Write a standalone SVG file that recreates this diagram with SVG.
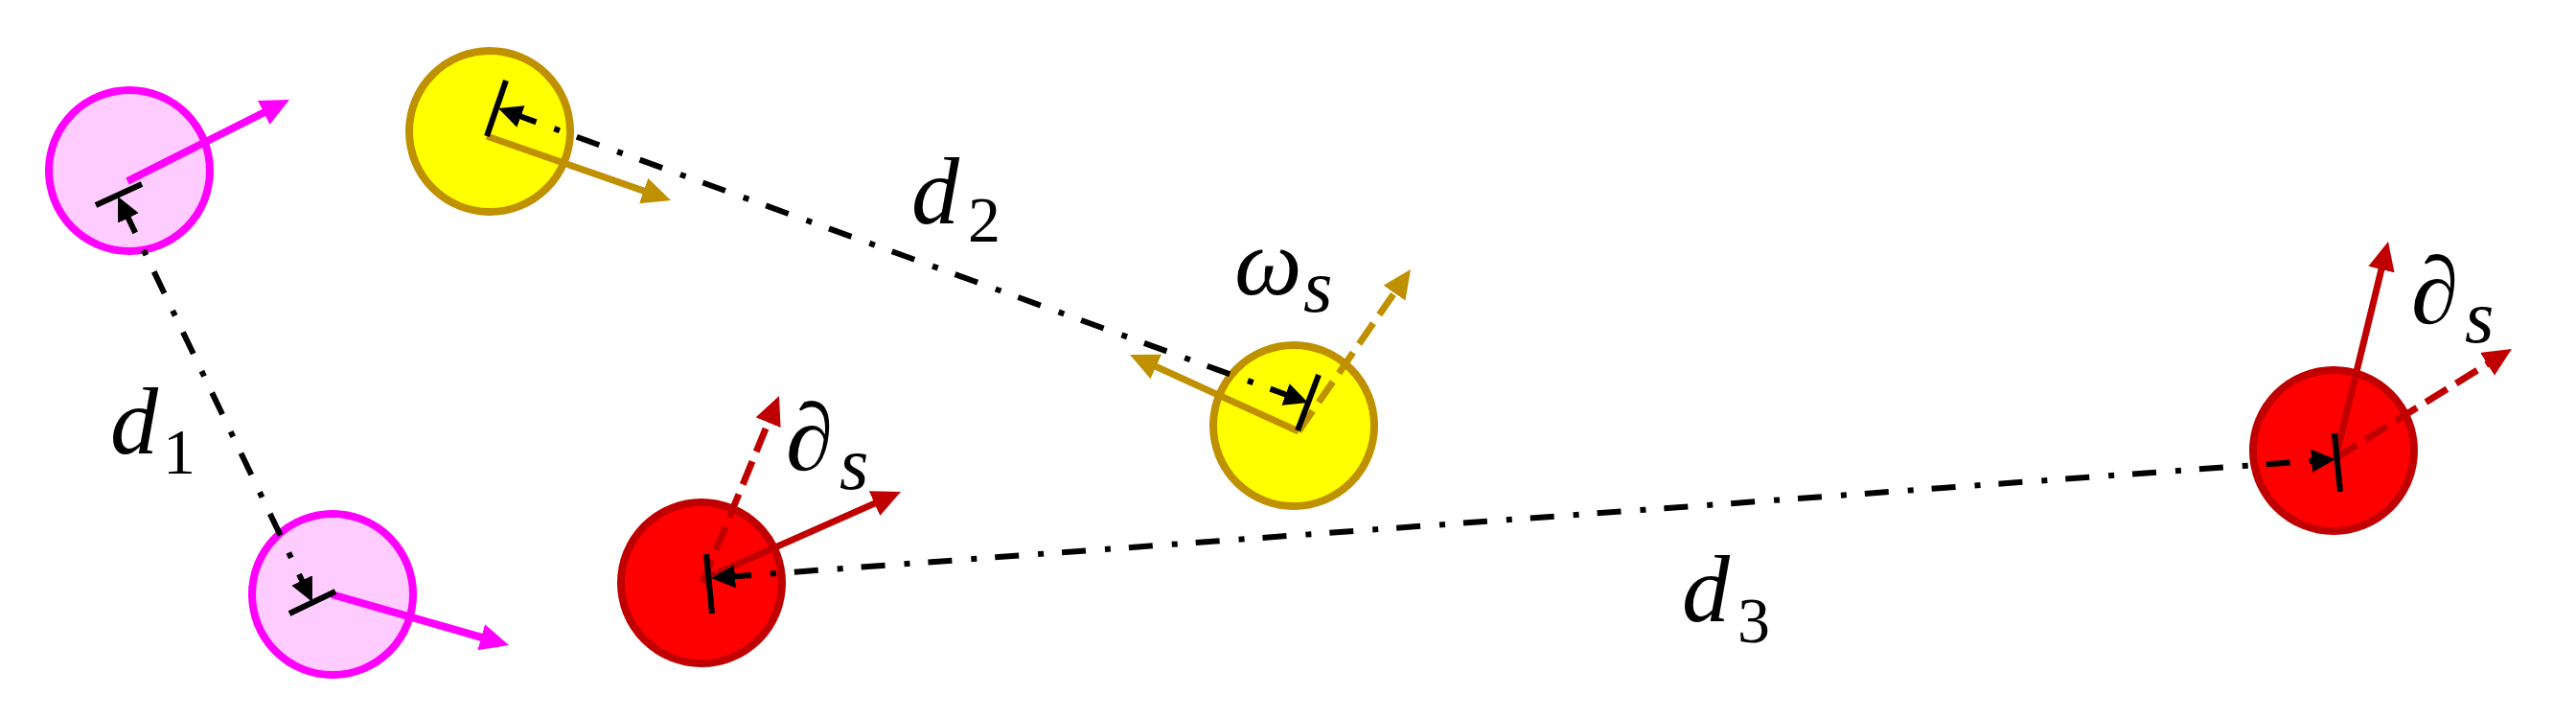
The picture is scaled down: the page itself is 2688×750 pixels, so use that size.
<svg xmlns="http://www.w3.org/2000/svg" width="2688" height="750" viewBox="0 0 2688 750">
<style>
.pink{fill:#FFCCFF;stroke:#FF00FF;stroke-width:8}
.yel{fill:#FFFF00;stroke:#BF9000;stroke-width:8}
.red{fill:#FF0000;stroke:#C00000;stroke-width:8}
.pa{stroke:#FF00FF;stroke-width:8;fill:none;marker-end:url(#mPink)}
.ya{stroke:#BF9000;stroke-width:7;fill:none;marker-end:url(#mYel)}
.ra{stroke:#C00000;stroke-width:7;fill:none;marker-end:url(#mRed)}
.dash{stroke-dasharray:26 11}
.dl{stroke:#000;stroke-width:6;fill:none;stroke-dasharray:25 20 6 19;marker-start:url(#mBlk);marker-end:url(#mBlk)}
.bar{stroke:#000;stroke-width:6}
text{font-family:"Liberation Serif","DejaVu Serif",serif;fill:#000}
.m{font-style:italic;font-size:100px}
.sub{font-size:68px}
.si{font-style:italic;font-size:78px}
</style>
<defs>
<marker id="mPink" markerUnits="userSpaceOnUse" markerWidth="32" markerHeight="30" refX="10" refY="14" orient="auto"><path d="M0,0 L30,14 L0,28 z" fill="#FF00FF"/></marker>
<marker id="mYel" markerUnits="userSpaceOnUse" markerWidth="32" markerHeight="30" refX="10" refY="14" orient="auto"><path d="M0,0 L30,14 L0,28 z" fill="#BF9000"/></marker>
<marker id="mRed" markerUnits="userSpaceOnUse" markerWidth="32" markerHeight="30" refX="10" refY="14" orient="auto"><path d="M0,0 L30,14 L0,28 z" fill="#C00000"/></marker>
<marker id="mBlk" markerUnits="userSpaceOnUse" markerWidth="27" markerHeight="26" refX="8" refY="12" orient="auto-start-reverse"><path d="M0,0 L25,12 L0,24 z" fill="#000"/></marker>
</defs>
<g id="nodeA"><circle class="pink" cx="135" cy="178" r="84"/><path class="pa" d="M133,189 L284.1,113"/></g>
<g id="nodeB"><circle class="pink" cx="347" cy="620" r="84"/><path class="pa" d="M346,620 L511.8,667.5"/></g>
<g id="nodeC"><circle class="yel" cx="511" cy="137" r="84"/><path class="ya" d="M508,142 L681.1,202.4"/></g>
<g id="nodeD"><circle class="yel" cx="1350" cy="444" r="84"/><path class="ya" d="M1355,450 L1197.2,378.3"/><path class="ya dash" d="M1355,450 L1460.6,297.4"/></g>
<g id="nodeE"><circle class="red" cx="732" cy="608" r="84"/><path class="ra" d="M732,605 L921.7,521.1"/><path class="ra dash" d="M733,608 L805.4,431.5"/></g>
<g id="nodeF"><circle class="red" cx="2435" cy="470" r="84"/><path class="ra" d="M2437,478 L2487.3,271.4"/><path class="ra dash" d="M2437,478 L2604,374.5"/></g>
<g id="connectors">
<path class="dl" d="M130.4,220.3 L318.6,612.7"/>
<path class="dl" d="M536,118.8 L1349,414.2"/>
<path class="dl" d="M759,601.8 L2420,480.2"/>
<line class="bar" x1="100" y1="214" x2="148" y2="192"/>
<line class="bar" x1="302" y1="640" x2="350" y2="617"/>
<line class="bar" x1="508" y1="142" x2="528" y2="84"/>
<line class="bar" x1="1354" y1="449" x2="1376" y2="391"/>
<line class="bar" x1="737" y1="578" x2="743" y2="640"/>
<line class="bar" x1="2436" y1="452" x2="2442" y2="513"/>
</g>
<g id="labels">
<text x="115" y="473"><tspan class="m">d</tspan></text><text x="170" y="494" class="sub">1</text>
<text x="951" y="233" class="m">d</text><text x="1010" y="252" class="sub">2</text>
<text x="1755" y="648" class="m">d</text><text x="1813" y="670" class="sub">3</text>
<text x="1288" y="307" class="m">ω</text><text x="1360" y="325" class="si">s</text>
<text x="820" y="490" class="m">∂</text><text x="876" y="510" class="si">s</text>
<text x="2516" y="337" class="m">∂</text><text x="2572" y="357" class="si">s</text>
</g>
</svg>
